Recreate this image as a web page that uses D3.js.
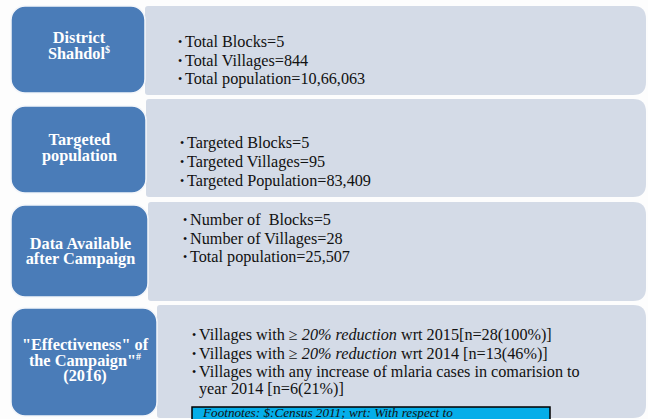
<!DOCTYPE html>
<html>
<head>
<meta charset="utf-8">
<script src="https://cdn.jsdelivr.net/npm/d3@7"></script>
<style>
  body { margin: 0; background: #fdfdfd; }
  svg text { font-family: "Liberation Serif", "Times New Roman", Times, serif; white-space: pre; }
</style>
</head>
<body>
<svg width="648" height="419"></svg>
<script>
// section headings (sup = superscript mark)
var headings = [
    [{t: "District"}, {t: "Shahdol", sup: "$"}],
    [{t: "Targeted"}, {t: "population"}],
    [{t: "Data Available"}, {t: "after Campaign"}],
    [{t: "\"Effectiveness\" of"}, {t: "the Campaign\"", sup: "#"}, {t: "(2016)"}]
];

// bullet items per section, each item a list of [text, italic] pieces
var districtItems = [
    [["Total Blocks=5"]],
    [["Total Villages=844"]],
    [["Total population=10,66,063"]]
];
var targetedItems = [
    [["Targeted Blocks=5"]],
    [["Targeted Villages=95"]],
    [["Targeted Population=83,409"]]
];
var availableItems = [
    [["Number of  Blocks=5"]],
    [["Number of Villages=28"]],
    [["Total population=25,507"]]
];
var effectItems = [
    [["Villages with \u2265 "], ["20% reduction", true], [" wrt 2015[n=28(100%)]"]],
    [["Villages with \u2265 "], ["20% reduction", true], [" wrt 2014 [n=13(46%)]"]],
    [["Villages with any increase of mlaria cases in comarision to year 2014 [n=6(21%)]"]]
];
var sections = [districtItems, targetedItems, availableItems, effectItems];

var footnote = "Footnotes: $:Census 2011; wrt: With respect to";

// layout
var svg = d3.select("svg"),
    width = +svg.attr("width"),
    height = +svg.attr("height");

var rows = [
    {top: 6, bottom: 93, gTop: 6, gBottom: 95, blueRight: 145, textX: 178, textY: 47, step: 18.5, headY: 43},
    {top: 106, bottom: 193, gTop: 99, gBottom: 197, blueRight: 146, textX: 180, textY: 148, step: 19, headY: 145},
    {top: 205, bottom: 297, gTop: 202, gBottom: 301, blueRight: 148, textX: 183, textY: 225, step: 18.5, headY: 248.5},
    {top: 308, bottom: 416, gTop: 305, gBottom: 418, blueRight: 157, textX: 192, textY: 340, step: 18.5, headY: 350}
];
var blueLeft = 11, grayRight = 646, fs = 16.2;

function grayPath(x0, y0, x1, y1) {
    var rl = 3, rr = 13;
    return "M" + (x0 + rl) + "," + y0 +
        "L" + (x1 - rr) + "," + y0 +
        "Q" + x1 + "," + y0 + " " + x1 + "," + (y0 + rr) +
        "L" + x1 + "," + (y1 - rr) +
        "Q" + x1 + "," + y1 + " " + (x1 - rr) + "," + y1 +
        "L" + (x0 + rl) + "," + y1 +
        "Q" + x0 + "," + y1 + " " + x0 + "," + (y1 - rl) +
        "L" + x0 + "," + (y0 + rl) +
        "Q" + x0 + "," + y0 + " " + (x0 + rl) + "," + y0 + "Z";
}

var row = svg.selectAll("g.row")
    .data(rows)
    .enter().append("g")
    .attr("class", "row");

row.append("path")
    .attr("d", function (d) {
        return grayPath(d.blueRight, d.gTop, grayRight, d.gBottom);
    })
    .attr("fill", "#d4dbe7");

row.append("rect")
    .attr("x", blueLeft)
    .attr("y", function (d) { return d.top; })
    .attr("width", function (d) { return d.blueRight - blueLeft; })
    .attr("height", function (d) { return d.bottom - d.top; })
    .attr("rx", 14)
    .attr("fill", "#4a7cb8")
    .attr("stroke", "#f4f6fa")
    .attr("stroke-width", 1.5);

// headings: one text block per box, one tspan per line
row.each(function (d, i) {
    var lh = 15.5,
        cx = (blueLeft + d.blueRight) / 2 + 1;
    var t = d3.select(this).append("text")
        .attr("text-anchor", "middle")
        .attr("fill", "#ffffff")
        .attr("font-weight", "bold")
        .attr("font-size", 16.3);
    headings[i].forEach(function (l, j) {
        t.append("tspan")
            .attr("x", cx)
            .attr("y", d.headY + j * lh)
            .text(l.t);
        if (l.sup) {
            t.append("tspan")
                .attr("font-size", 10)
                .attr("dy", -6)
                .text(l.sup);
        }
    });
});

// bullet lists
row.each(function (d, i) {
    var g = d3.select(this),
        y = d.textY;
    sections[i].forEach(function (item) {
        var pieces = item;
        var lines = [pieces];
        if (pieces.length === 1) {
            // wrap plain items that run too wide
            var words = pieces[0][0].split(" "), cur = [], out = [];
            var probe = g.append("text").attr("font-size", fs);
            words.forEach(function (w) {
                probe.text(cur.concat([w]).join(" "));
                if (cur.length && probe.node().getComputedTextLength() > 395) {
                    out.push(cur.join(" "));
                    cur = [w];
                } else {
                    cur.push(w);
                }
            });
            out.push(cur.join(" "));
            probe.remove();
            lines = out.map(function (s) { return [[s]]; });
        }
        g.append("text")
            .attr("x", d.textX)
            .attr("y", y - 1)
            .attr("font-size", 12)
            .attr("fill", "#111")
            .text("\u2022");
        lines.forEach(function (ln, k) {
            var t = g.append("text")
                .attr("x", d.textX + 7)
                .attr("y", y)
                .attr("font-size", fs)
                .attr("fill", "#111");
            t.selectAll("tspan")
                .data(ln)
                .enter().append("tspan")
                .attr("font-style", function (p) { return p[1] ? "italic" : null; })
                .text(function (p) { return p[0]; });
            y += k < lines.length - 1 ? 16.5 : d.step;
        });
    });
});

// footnote box
var foot = svg.append("g");
foot.append("rect")
    .attr("x", 192)
    .attr("y", 407)
    .attr("width", 358)
    .attr("height", 16)
    .attr("fill", "#05aee9")
    .attr("stroke", "#000")
    .attr("stroke-width", 1.5);
foot.append("text")
    .attr("x", 203)
    .attr("y", 417)
    .attr("font-size", 13.2)
    .attr("font-style", "italic")
    .attr("fill", "#111")
    .text(footnote);
</script>
</body>
</html>
